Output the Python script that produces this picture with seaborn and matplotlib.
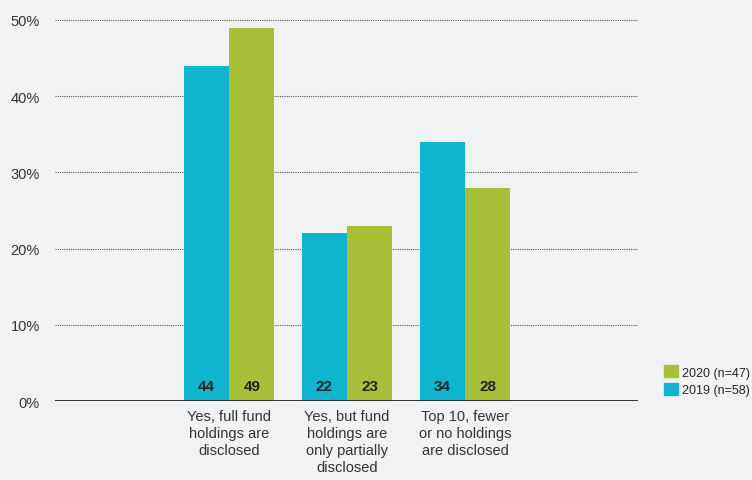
import pandas as pd
import numpy as np
import matplotlib
matplotlib.use("Agg")
import matplotlib.pyplot as plt
import seaborn as sns
from matplotlib.patches import Patch

### data
categories = ["Yes, full fund\nholdings are\ndisclosed",
              "Yes, but fund\nholdings are\nonly partially\ndisclosed",
              "Top 10, fewer\nor no holdings\nare disclosed"]
years = ["2019 (n=58)", "2020 (n=47)"]
values_2019 = [44, 22, 34]
values_2020 = [49, 23, 28]
yticks = [0, 10, 20, 30, 40, 50]

bg = "#f1f2f4"
cyan = "#0fb5cf"
green = "#a8bf3a"

df = pd.DataFrame({
    "category": categories * 2,
    "year": [years[0]] * 3 + [years[1]] * 3,
    "value": values_2019 + values_2020,
})

sns.set_style("white")
plt.rcParams["font.family"] = ["Liberation Sans", "DejaVu Sans"]

fig = plt.figure(figsize=(7.52, 4.81), dpi=100, facecolor=bg)
ax = fig.add_axes([55 / 752, 1 - 402 / 481, 583 / 752, 381 / 481])
ax.set_facecolor(bg)

sns.barplot(data=df, x="category", y="value", hue="year", hue_order=years,
            palette=[cyan, green], width=0.77, gap=0, saturation=1,
            linewidth=0, legend=False, ax=ax, zorder=3)

ax.set_xlim(-1.475, 3.466)
ax.set_ylim(0, 50)
ax.set_yticks(yticks)
ax.set_yticklabels([f"{t}%" for t in yticks], fontsize=10.5, color="#333333")
ax.tick_params(axis="y", length=0, pad=11)
ax.tick_params(axis="x", length=0, pad=6)
for lab in ax.get_xticklabels():
    lab.set_fontsize(10.5)
    lab.set_color("#333333")
    lab.set_linespacing(1.25)
    lab.set_va("top")
ax.set_xlabel("")
ax.set_ylabel("")

for t in yticks[1:]:
    ax.axhline(t, color="#555555", lw=0.8, ls=(0, (1, 1)), zorder=1)
ax.axhline(0, color="#222222", lw=1.3, zorder=4)

for s in ax.spines.values():
    s.set_visible(False)

# value labels at the base of each bar
for cont in ax.containers:
    for bar in cont:
        h = bar.get_height()
        ax.text(bar.get_x() + bar.get_width() / 2, 2, f"{int(h)}",
                ha="center", va="center", fontsize=11, fontweight="bold",
                color="#222222", zorder=5)

handles = [Patch(color=green, label=years[1]), Patch(color=cyan, label=years[0])]
fig.legend(handles=handles, loc="lower left", bbox_to_anchor=(655 / 752, 1 - 406 / 481),
           frameon=False, fontsize=9, handlelength=1.1, handleheight=1.1,
           handletextpad=0.4, labelspacing=0.35, borderpad=0.2)

fig.savefig("out.png", dpi=100, facecolor=bg)
